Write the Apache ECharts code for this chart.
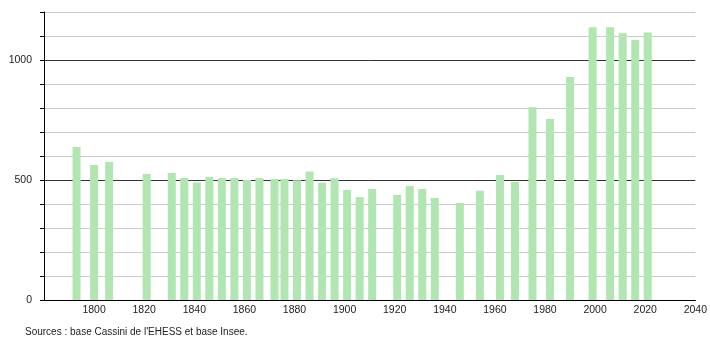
<!DOCTYPE html>
<html>
<head>
<meta charset="utf-8">
<script src="https://cdn.jsdelivr.net/npm/echarts@6/dist/echarts.min.js"></script>
<style>
html,body{margin:0;padding:0;background:#fff;}
#c{width:710px;height:340px;}
</style>
</head>
<body>
<div id="c"></div>
<script>
const years = [1793,1800,1806,1821,1831,1836,1841,1846,1851,1856,1861,1866,1872,1876,1881,1886,1891,1896,1901,1906,1911,1921,1926,1931,1936,1946,1954,1962,1968,1975,1982,1990,1999,2006,2011,2016,2021];
const population = [637,562,575,525,529,508,490,512,508,508,500,508,504,504,499,535,489,507,458,429,462,437,475,462,425,404,455,521,492,803,754,929,1136,1136,1111,1083,1115];
const yLabels = [0,500,1000];
const xLabels = [1800,1820,1840,1860,1880,1900,1920,1940,1960,1980,2000,2020,2040];
const sourceText = "Sources : base Cassini de l'EHESS et base Insee.";

const chart = echarts.init(document.getElementById('c'));
const font = '"Liberation Sans", Arial, sans-serif';
chart.setOption({
  animation: false,
  backgroundColor: '#fff',
  grid: {left: 44, right: 10, top: 12, bottom: 40},
  title: {
    text: sourceText, left: 20, top: 322,
    textStyle: {fontSize: 10, fontWeight: 'normal', color: '#222', fontFamily: font}
  },
  xAxis: {
    type: 'value', min: 1780, max: 2040, interval: 20,
    axisLine: {show: true, lineStyle: {color: '#000', width: 1}},
    axisTick: {show: false},
    splitLine: {show: false},
    axisLabel: {
      color: '#222', fontSize: 10.5, fontFamily: font, margin: 5,
      formatter: v => xLabels.includes(v) ? String(v) : ''
    }
  },
  yAxis: {
    type: 'value', min: 0, max: 1200, interval: 100,
    axisLine: {show: true, lineStyle: {color: '#000', width: 1}},
    axisTick: {show: true, length: 4, lineStyle: {color: '#000'}},
    splitLine: {show: true, lineStyle: {color: ['#333','#ccc','#ccc','#ccc','#ccc'], width: 1}},
    axisLabel: {
      color: '#222', fontSize: 10.5, fontFamily: font, margin: 12,
      formatter: v => yLabels.includes(v) ? String(v) : ''
    }
  },
  series: [{
    type: 'bar',
    data: years.map((y, i) => [y, population[i]]),
    barWidth: 8,
    itemStyle: {color: '#b1e5b1'}
  }]
});
</script>
</body>
</html>
